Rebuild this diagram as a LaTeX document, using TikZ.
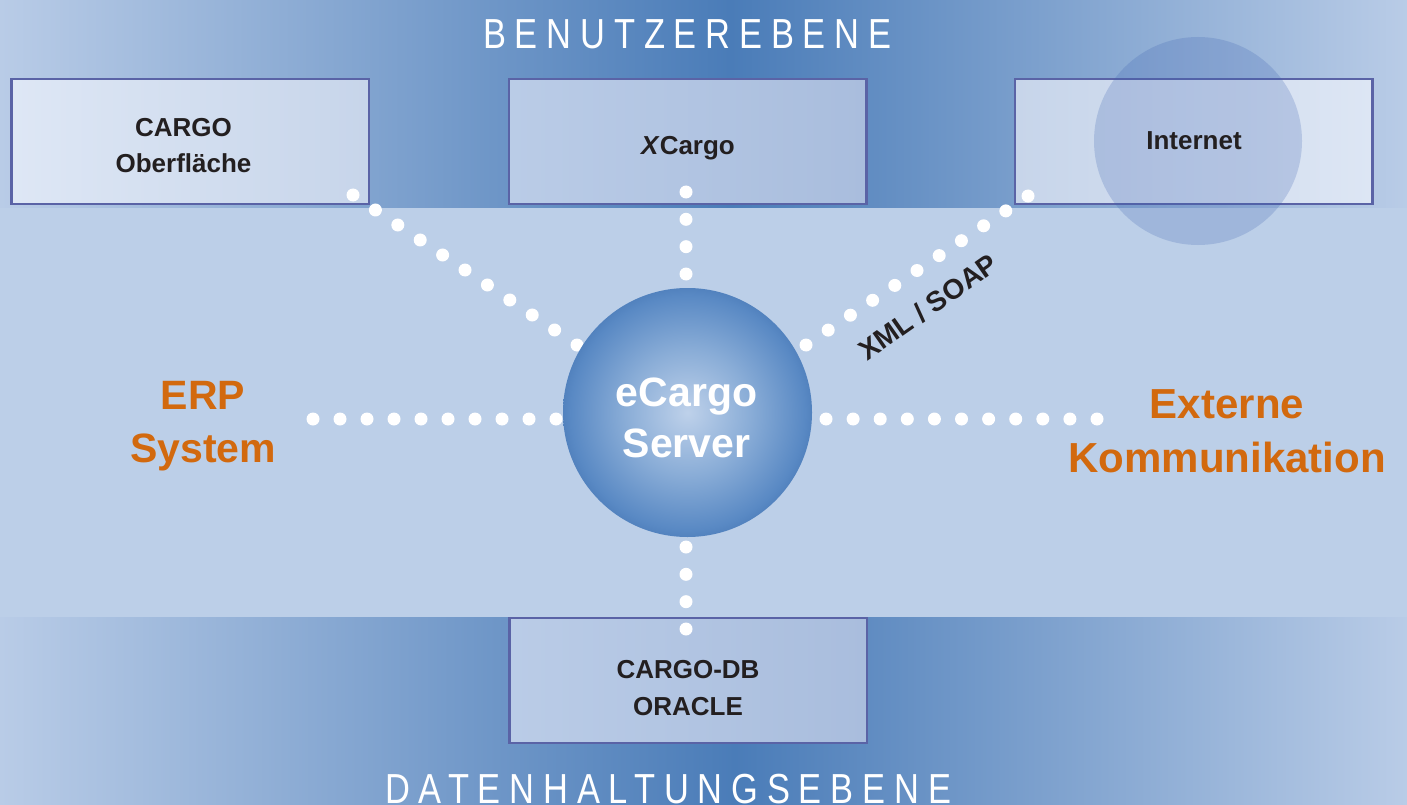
\documentclass[tikz,border=0pt]{standalone}
\usepackage{fontspec}
\setmainfont{Liberation Sans}
\newfontfamily\titlefont[FakeStretch=0.82,LetterSpace=21]{Liberation Sans}
\usetikzlibrary{calc}
\definecolor{bandlight}{HTML}{B9CCE7}
\definecolor{banddark}{HTML}{4A7CB8}
\definecolor{midband}{HTML}{BCCFE8}
\definecolor{boxborder}{HTML}{5A63A6}
\definecolor{txt}{HTML}{231F20}
\definecolor{orangetxt}{HTML}{D2690E}
\definecolor{cargoL}{HTML}{DEE7F5}
\definecolor{cargoR}{HTML}{C7D5EA}
\definecolor{xcL}{HTML}{BACCE7}
\definecolor{xcR}{HTML}{A9BDDD}
\definecolor{inL}{HTML}{C7D5EA}
\definecolor{inR}{HTML}{DDE6F4}
\definecolor{cloud}{HTML}{3A5FB0}
\definecolor{srvlight}{HTML}{BED1EA}
\definecolor{srvmid}{HTML}{8AADD7}
\definecolor{srvdark}{HTML}{5989C4}
\definecolor{srvedge}{HTML}{5282BE}
\pgfdeclareradialshading{srvshade}{\pgfpoint{0bp}{0bp}}{color(0bp)=(srvlight); color(12.5bp)=(srvmid); color(23.5bp)=(srvdark); color(25bp)=(srvedge); color(50bp)=(srvedge)}
\tikzset{
  box/.style={draw=boxborder, line width=2.5pt, minimum width=357.5pt, minimum height=125pt, inner sep=0pt},
  boxtxt/.style={text=txt, font=\bfseries\fontsize{26}{36}\selectfont, align=center, inner sep=0pt},
  bigtxt/.style={font=\bfseries\fontsize{41}{53}\selectfont, align=center, inner sep=0pt},
  leveltxt/.style={text=white, font=\titlefont\fontsize{42}{50}\selectfont, inner sep=0pt, anchor=base west},
  dotmark/.style={fill=white},
}
\begin{document}
\begin{tikzpicture}[x=1pt,y=-1pt]
\useasboundingbox (0,0) rectangle (1407,805);
% background bands
\fill[midband] (0,0) rectangle (1407,805);
\shade[left color=bandlight, right color=banddark] (0,0) rectangle (730,207);
\shade[left color=banddark, right color=bandlight] (730,0) rectangle (1407,207);
\shade[left color=bandlight, right color=banddark] (0,617) rectangle (735,805);
\shade[left color=banddark, right color=bandlight] (735,617) rectangle (1407,805);
% boxes
\node[box, left color=cargoL, right color=cargoR] (cargo) at (190,141.5) {};
\node[box, left color=xcL, right color=xcR] (xcargo) at (687.5,141.5) {};
\node[box, left color=inL, right color=inR] (internet) at (1193.5,141.5) {};
\node[box, left color=xcL, right color=xcR] (db) at (688,680.5) {};
\node[circle, minimum size=208pt, inner sep=0pt, fill=cloud, fill opacity=0.22] (cloud) at (1198,141) {};
% dotted connectors
\coordinate (c1a) at (353,195);  \coordinate (c1b) at (577,345);
\coordinate (c2a) at (686,192);  \coordinate (c2b) at (686,274);
\coordinate (c3a) at (1028,196); \coordinate (c3b) at (806,345);
\coordinate (c4a) at (313,419);  \coordinate (c4b) at (556,419);
\coordinate (c5a) at (826,419);  \coordinate (c5b) at (1097,419);
\coordinate (c6a) at (686,547);  \coordinate (c6b) at (686,629);
\foreach \i in {0,...,10} \fill[dotmark] ($(c1a)!\i/10!(c1b)$) circle (6.5);
\foreach \i in {0,...,3} \fill[dotmark] ($(c2a)!\i/3!(c2b)$) circle (6.5);
\foreach \i in {0,...,10} \fill[dotmark] ($(c3a)!\i/10!(c3b)$) circle (6.5);
\foreach \i in {0,...,9} \fill[dotmark] ($(c4a)!\i/9!(c4b)$) circle (6.5);
\foreach \i in {0,...,10} \fill[dotmark] ($(c5a)!\i/10!(c5b)$) circle (6.5);
\foreach \i in {0,...,3} \fill[dotmark] ($(c6a)!\i/3!(c6b)$) circle (6.5);
% server
\node[circle, minimum size=249pt, inner sep=0pt, shade, shading=srvshade] (server) at (687.5,412.5) {};
% texts
\node[boxtxt] (cargo-t) at (183.5,145.5) {CARGO\\Oberfläche};
\node[boxtxt, anchor=base] (xcargo-t) at (688,155) {\textit{X}Cargo};
\node[boxtxt, anchor=base] (internet-t) at (1194,150) {Internet};
\node[boxtxt, font=\bfseries\fontsize{26}{37}\selectfont] (db-t) at (688,688) {CARGO-DB\\ORACLE};
\node[bigtxt, text=orangetxt] (erp) at (203,426) {ERP\\System};
\node[bigtxt, text=orangetxt, font=\bfseries\fontsize{42}{54}\selectfont] (ext) at (1227,431) {Externe\\Kommunikation};
\node[bigtxt, text=white, font=\bfseries\fontsize{41}{51}\selectfont] (srv-t) at (686.5,418) {eCargo\\Server};
\node[text=txt, font=\bfseries\fontsize{28}{30}\selectfont, rotate=35, inner sep=0pt] (xml) at (928,307) {XML / SOAP};
\node[leveltxt] (lvl-top) at (483,49) {BENUTZEREBENE};
\node[leveltxt] (lvl-bot) at (385,803) {DATENHALTUNGSEBENE};
\end{tikzpicture}
\end{document}
